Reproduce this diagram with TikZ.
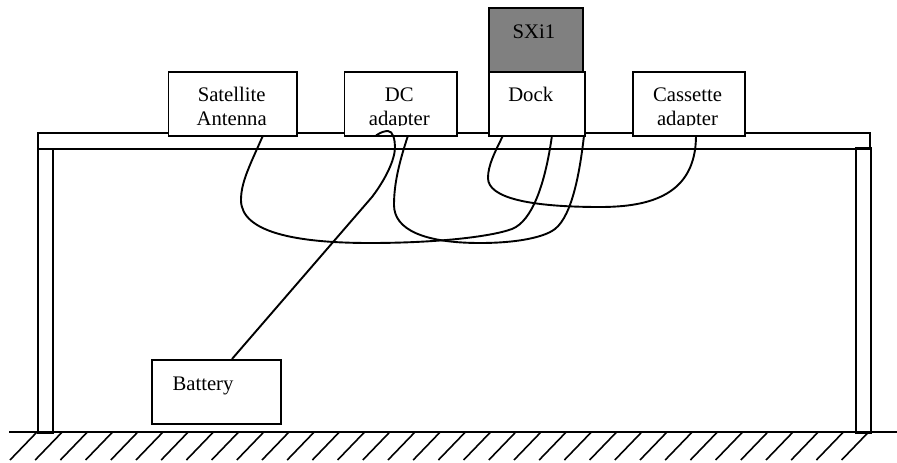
\documentclass[tikz,border=0pt]{standalone}
\usepackage{fontspec}
\setmainfont{Liberation Serif}
\tikzset{
  x=1pt,y=-1pt,
  line/.style={draw=black,line width=1.9pt},
  boxn/.style={line,fill=white,rectangle,inner sep=0pt,minimum width=#1,anchor=north west},
  boxn/.default=96pt,
  lab/.style={font=\fontsize{20.7}{24}\selectfont,anchor=base,inner sep=0pt,text=black},
  wire/.style={line,line width=1.9pt}
}
\begin{document}
\begin{tikzpicture}
\useasboundingbox (0,0) rectangle (897,463);
% table
\node[line,rectangle,inner sep=0pt,minimum width=832pt,minimum height=16pt,anchor=north west] (top) at (37,132) {};
\node[line,rectangle,inner sep=0pt,minimum width=15pt,minimum height=284pt,anchor=north west] (legl) at (37,148) {};
\node[line,rectangle,inner sep=0pt,minimum width=15pt,minimum height=285pt,anchor=north west] (legr) at (855,147) {};
% ground
\coordinate (g0) at (9,432);
\coordinate (g1) at (897,432);
\draw[line] (g0) -- (g1);
\foreach \k in {0,...,33} \draw[line,line width=1.6pt] (37+25.2*\k,432) -- ++(-27,28);
% boxes
\node[boxn=128.5pt,minimum height=64pt] (sat) at (167.5,71) {};
\node[boxn=112.5pt,minimum height=64pt] (dc) at (343.5,71) {};
\node[boxn=96pt,minimum height=64pt] (dock) at (488,71) {};
\node[boxn=112pt,minimum height=64pt] (cas) at (632,71) {};
\node[boxn=94pt,minimum height=64pt,fill={rgb,255:red,128;green,128;blue,128}] (sxi) at (488,7) {};
\node[boxn=129pt,minimum height=64pt] (bat) at (151,359) {};
% labels
\begin{scope}
\clip (0,0) rectangle (897,125.5);
\node[lab] (l1) at (231.7,101) {Satellite};
\node[lab] (l2) at (231.7,125) {Antenna};
\node[lab] (l3) at (399.3,101) {DC};
\node[lab] (l4) at (399.3,125) {adapter};
\node[lab] (l5) at (530.7,101.5) {Dock};
\node[lab] (l6) at (534,38) {SXi1};
\node[lab] (l7) at (687.5,101) {Cassette};
\node[lab] (l8) at (687.5,125) {adapter};
\end{scope}
\node[lab] (l9) at (203,390) {Battery};
% wires
\coordinate (a1) at (263,135.5);
\coordinate (a2) at (552,135.5);
\coordinate (b1) at (408,135.5);
\coordinate (b2) at (584,135.5);
\coordinate (c1) at (503,135.5);
\coordinate (c2) at (696,135.5);
\coordinate (d1) at (376,135.5);
\coordinate (d2) at (232,359);
\draw[wire] (a1) .. controls (250,165) and (241,182) .. (241,200)
  .. controls (241,232) and (295,243) .. (370,243)
  .. controls (435,243) and (490,237) .. (512,229)
  .. controls (532,221) and (545,185) .. (a2);
\draw[wire] (b1) .. controls (400,160) and (394,182) .. (394,205)
  .. controls (394,230) and (425,243) .. (480,243)
  .. controls (515,243) and (540,238) .. (552,231)
  .. controls (570,221) and (579,180) .. (b2);
\draw[wire] (c1) .. controls (495,152) and (488,165) .. (488,178)
  .. controls (488,198) and (530,207) .. (600,207)
  .. controls (650,207) and (696,195) .. (c2);
\draw[wire] (d1) .. controls (381,132) and (385,131) .. (388,131)
  .. controls (393,131) and (395,140) .. (395,147)
  .. controls (395,160) and (385,180) .. (372,197)
  -- (d2);
\end{tikzpicture}
\end{document}
